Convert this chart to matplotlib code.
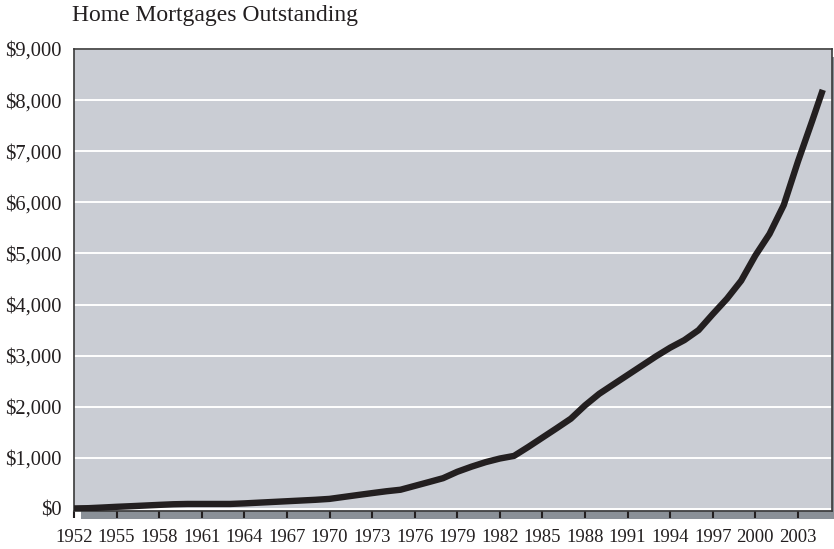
import matplotlib
matplotlib.use('Agg')
import matplotlib.pyplot as plt
from matplotlib.patches import Rectangle

# Home mortgages outstanding, billions of dollars
# annual points, last one is the partial year 2004 (around Q3)
years = list(range(1952, 2005)) + [2004.75]
mortgages = [10, 15, 28, 42, 54, 67, 80, 92, 98, 98,
             98, 98, 109, 123, 137, 151, 165, 179, 197, 235,
             273, 310, 346, 376, 451, 526, 602, 727, 827, 916,
             987, 1038, 1213, 1396, 1579, 1766, 2026, 2253, 2437, 2620,
             2803, 2986, 3156, 3304, 3499, 3812, 4114, 4466, 4959, 5382,
             5945, 6798, 7590, 8200]
tick_years = list(range(1952, 2004, 3))
y_ticks = list(range(0, 9001, 1000))
y_labels = ['$' + format(v, ',') for v in y_ticks]
title = 'Home Mortgages Outstanding'

plt.rcParams['font.family'] = ['Liberation Serif', 'DejaVu Serif']

W, H = 834, 549
fig = plt.figure(figsize=(W / 100, H / 100), dpi=100)
ax = fig.add_axes([74 / W, 1 - 511 / H, (832 - 74) / W, (511 - 49) / H])
ax.set_zorder(2)

# drop shadow behind the plot box
shadow = Rectangle((81 / W, 1 - 519 / H), (832 - 74) / W, (511 - 49) / H,
                   transform=fig.transFigure, facecolor='#8a9097',
                   edgecolor='none', zorder=0)
fig.patches.append(shadow)

ax.set_facecolor('#cacdd4')
ax.plot(years, mortgages, color='#231f20', lw=4.6, solid_capstyle='butt',
        solid_joinstyle='round', zorder=3)

ax.set_xlim(1952, 2005.4)
ax.set_ylim(-40, 9000)
ax.set_yticks(y_ticks)
ax.set_yticklabels(y_labels)
ax.set_xticks(tick_years)
ax.grid(axis='y', color='white', lw=1.4)
ax.set_axisbelow(True)

ax.tick_params(axis='y', length=0, pad=9, labelsize=14.8, labelcolor='#231f20')
ax.tick_params(axis='x', direction='out', length=5, width=1.5, color='#231f20',
               pad=8, labelsize=13.5, labelcolor='#231f20')
for s in ax.spines.values():
    s.set_color('#3a3a3a')
    s.set_linewidth(1.2)

fig.text(72 / W, 1 - 16 / H, title, fontsize=17, va='center', ha='left', color='#231f20')

fig.savefig('out.png', dpi=100)
